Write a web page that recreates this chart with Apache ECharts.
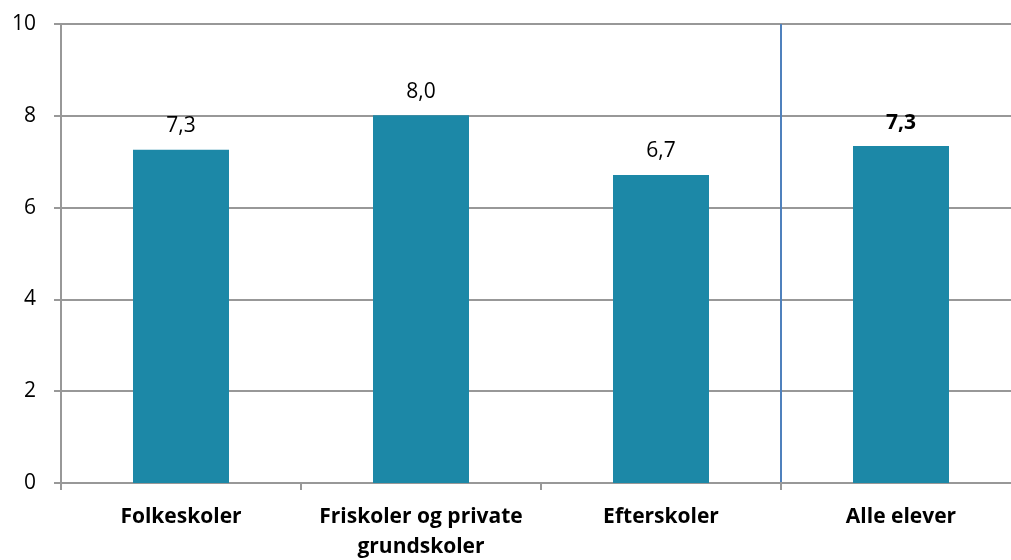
<!DOCTYPE html>
<html>
<head>
<meta charset="utf-8">
<script src="https://cdn.jsdelivr.net/npm/echarts@6/dist/echarts.min.js"></script>
<style>
  html, body { margin: 0; padding: 0; background: #fff; }
  #chart { width: 1011px; height: 560px; }
</style>
</head>
<body>
<div id="chart"></div>
<script>
// skoletyper og gennemsnit
const categories = ['Folkeskoler', 'Friskoler og private\ngrundskoler', 'Efterskoler', 'Alle elever'];
const values = [7.26, 8.01, 6.71, 7.34];
const yTicks = [0, 2, 4, 6, 8, 10];

const barColor = '#1c88a7';
const gridGray = '#989898';
const font = 'Open Sans, Liberation Sans, sans-serif';

const chart = echarts.init(document.getElementById('chart'));

chart.setOption({
  animation: false,
  grid: { left: 61, right: -10, top: 24, bottom: 77, outerBoundsMode: 'none', containLabel: false },
  xAxis: {
    type: 'category',
    data: categories,
    axisLine: { lineStyle: { color: gridGray, width: 2 } },
    axisTick: { show: true, length: 7, alignWithLabel: false, lineStyle: { color: gridGray, width: 2 } },
    splitLine: {
      show: true,
      interval: 0,
      // only the boundary before "Alle elever" is drawn, in blue
      lineStyle: { color: ['rgba(0,0,0,0)', 'rgba(0,0,0,0)', 'rgba(0,0,0,0)', '#4f81bd'], width: 2 }
    },
    axisLabel: {
      interval: 0,
      margin: 19,
      color: '#000',
      fontFamily: font,
      fontWeight: 'bold',
      fontSize: 21,
      lineHeight: 30
    }
  },
  yAxis: {
    type: 'value',
    min: yTicks[0],
    max: yTicks[yTicks.length - 1],
    interval: 2,
    axisLine: { show: true, lineStyle: { color: gridGray, width: 2 } },
    axisTick: { show: true, length: 7, lineStyle: { color: gridGray, width: 2 } },
    splitLine: { lineStyle: { color: gridGray, width: 2 } },
    axisLabel: { margin: 25, color: '#000', fontFamily: font, fontSize: 21 }
  },
  series: [{
    type: 'bar',
    barWidth: '40%',
    data: values.map((v, i) => ({
      value: v,
      label: i === values.length - 1 ? { fontWeight: 'bold' } : {}
    })),
    itemStyle: { color: barColor },
    label: {
      show: true,
      position: 'top',
      distance: 13,
      color: '#000',
      fontFamily: font,
      fontSize: 21,
      formatter: p => p.value.toFixed(1).replace('.', ',')
    }
  }]
});
</script>
</body>
</html>
